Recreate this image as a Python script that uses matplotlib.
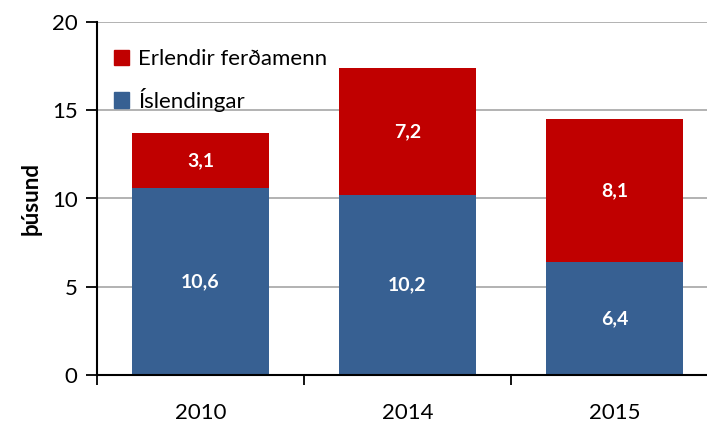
import matplotlib
matplotlib.use("Agg")
import matplotlib.pyplot as plt
from matplotlib.patches import Patch

plt.rcParams['font.family'] = ['Lato', 'DejaVu Sans']

years = ["2010", "2014", "2015"]
islendingar = [10.6, 10.2, 6.4]
erlendir = [3.1, 7.2, 8.1]
series_names = ["Erlendir ferðamenn", "Íslendingar"]
yticks = [0, 5, 10, 15, 20]

blue = "#376092"
red = "#C00000"

fig = plt.figure(figsize=(7.07, 4.23), dpi=100)
# axis spans beyond right edge as in reference
ax = fig.add_axes([97/707, (423-375)/423, (718-97)/707, (375-22)/423])

x = list(range(len(years)))
w = 0.66
ax.bar(x, islendingar, width=w, color=blue, zorder=2)
ax.bar(x, erlendir, width=w, bottom=islendingar, color=red, zorder=2)

def fmt(v):
    return f"{v:.1f}".replace(".", ",")

for i in x:
    ax.text(i, islendingar[i]/2, fmt(islendingar[i]), ha="center", va="center",
            color="white", fontsize=14, fontweight="bold", zorder=3)
    ax.text(i, islendingar[i] + erlendir[i]/2, fmt(erlendir[i]), ha="center", va="center",
            color="white", fontsize=14, fontweight="bold", zorder=3)

ax.set_xlim(-0.5, 2.5)
ax.set_ylim(0, 20)
ax.set_yticks(yticks)
ax.set_yticklabels([str(t) for t in yticks], fontsize=16)
ax.yaxis.grid(True, color="#A6A6A6", linewidth=1.2, zorder=0)
ax.set_axisbelow(True)

# x ticks at category boundaries, labels at centers
ax.set_xticks([-0.5, 0.5, 1.5, 2.5])
ax.set_xticklabels([])
ax.set_xticks(x, minor=True)
ax.set_xticklabels(years, minor=True, fontsize=16)
ax.tick_params(axis="x", which="minor", length=0, pad=20)
ax.tick_params(axis="x", which="major", length=7, width=1.3, direction="out", color="black")
ax.tick_params(axis="y", length=8, width=1.3, direction="out", pad=6, color="black")

for s in ["top", "right"]:
    ax.spines[s].set_visible(False)
ax.spines["left"].set_linewidth(1.5)
ax.spines["bottom"].set_linewidth(1.5)

ax.set_ylabel("þúsund", fontsize=16, fontweight="bold", labelpad=7)

handles = [Patch(color=red), Patch(color=blue)]
ax.legend(handles, series_names, loc="upper left", bbox_to_anchor=(-0.005, 0.98),
          frameon=False, fontsize=16, handlelength=0.7, handleheight=0.7,
          handletextpad=0.4, labelspacing=0.85)

fig.savefig("out.png", dpi=100)
